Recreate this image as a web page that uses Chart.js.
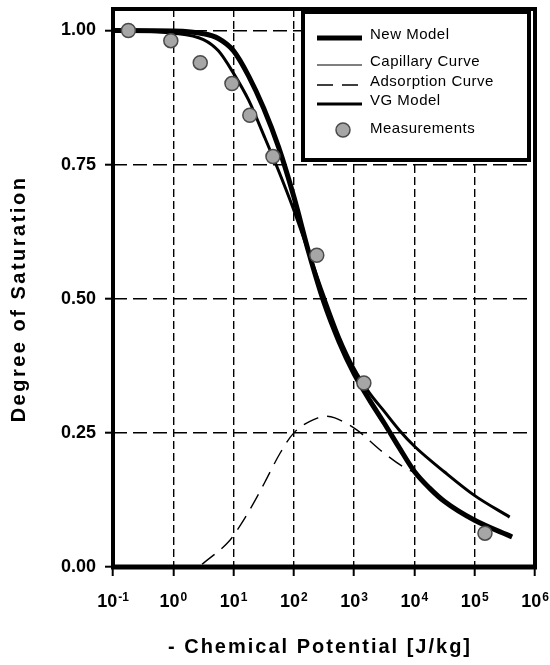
<!DOCTYPE html>
<html>
<head>
<meta charset="utf-8">
<script src="https://cdn.jsdelivr.net/npm/chart.js@4.4.1/dist/chart.umd.min.js"></script>
<style>
  html, body { margin: 0; padding: 0; background: #fff; }
</style>
</head>
<body>
<canvas id="satChart" width="550" height="665"></canvas>
<script>
// tick values
const xTicks = [0.1, 1, 10, 100, 1000, 10000, 100000, 1000000];
const yTicks = [0, 0.25, 0.5, 0.75, 1.0];

// New Model (thick line)
const newModelX = [0.1, 1, 3.16, 5.6, 10, 17.8, 31.6, 56, 100, 178, 316, 562, 1000, 1780, 3160, 5620, 10000, 17800, 31600, 100000, 417000];
const newModelY = [1.0, 0.999, 0.994, 0.985, 0.962, 0.915, 0.855, 0.782, 0.69, 0.585, 0.493, 0.42, 0.36, 0.312, 0.268, 0.222, 0.178, 0.147, 0.122, 0.087, 0.056];

// Capillary curve (runs under the thick line)
const capillaryX = [0.1, 1, 3.16, 5.6, 10, 17.8, 31.6, 56, 100, 178, 316, 562, 1000];
const capillaryY = [1.0, 0.999, 0.994, 0.985, 0.962, 0.915, 0.855, 0.782, 0.69, 0.585, 0.493, 0.42, 0.36];

// Adsorption curve (dashed)
const adsorptionX = [3.0, 8.7, 13, 23, 33, 59, 100, 251, 355, 479, 1120, 2700, 7600, 10000, 17800, 31600, 100000, 417000];
const adsorptionY = [0.005, 0.05, 0.078, 0.125, 0.158, 0.212, 0.25, 0.278, 0.281, 0.278, 0.255, 0.218, 0.182, 0.176, 0.147, 0.122, 0.087, 0.056];

// VG Model
const vgX = [0.1, 1, 3.16, 5.6, 10, 17.8, 31.6, 56, 100, 178, 316, 562, 1000, 1780, 3160, 5620, 10000, 31600, 100000, 380000];
const vgY = [1.0, 0.995, 0.983, 0.962, 0.92, 0.87, 0.805, 0.738, 0.665, 0.585, 0.505, 0.43, 0.37, 0.325, 0.29, 0.255, 0.225, 0.177, 0.133, 0.093];

// Measurements
const measX = [0.18, 0.91, 2.8, 9.4, 18.6, 45, 240, 1450, 148000];
const measY = [1.0, 0.981, 0.94, 0.901, 0.842, 0.765, 0.581, 0.343, 0.063];

const legendOrder = ['New Model', 'Capillary Curve', 'Adsorption Curve', 'VG Model', 'Measurements'];

function toPoints(xs, ys) {
    return xs.map((x, i) => ({ x: x, y: ys[i] }));
}

const FONT = "'Liberation Sans', Arial, Helvetica, sans-serif";
Chart.defaults.font.family = FONT;
Chart.defaults.color = '#000';

const extrasPlugin = {
    id: 'extras',
    beforeDatasetsDraw(chart) {
        const ctx = chart.ctx;
        const a = chart.chartArea;
        ctx.save();
        ctx.strokeStyle = '#000';
        ctx.lineWidth = 4;
        ctx.strokeRect(a.left, a.top, a.right - a.left, a.bottom - a.top);
        ctx.lineWidth = 5;
        ctx.beginPath();
        ctx.moveTo(a.left - 2, a.bottom);
        ctx.lineTo(a.right + 2, a.bottom);
        ctx.stroke();
        ctx.restore();
    },
    afterDraw(chart) {
        const ctx = chart.ctx;
        const a = chart.chartArea;
        const xScale = chart.scales.x;
        ctx.save();
        ctx.fillStyle = '#000';

        // x tick labels: 10 with superscript exponent
        xTicks.forEach(v => {
            const exp = String(Math.round(Math.log10(v)));
            const px = xScale.getPixelForValue(v);
            ctx.font = 'bold 18px ' + FONT;
            const wBase = ctx.measureText('10').width;
            ctx.font = 'bold 12px ' + FONT;
            const wExp = ctx.measureText(exp).width;
            const start = px - (wBase + wExp + 1) / 2;
            ctx.textAlign = 'left';
            ctx.textBaseline = 'alphabetic';
            ctx.font = 'bold 18px ' + FONT;
            ctx.fillText('10', start, 607);
            ctx.font = 'bold 12px ' + FONT;
            ctx.fillText(exp, start + wBase + 1, 601);
        });

        // axis titles
        ctx.font = 'bold 20px ' + FONT;
        ctx.letterSpacing = '2px';
        ctx.textAlign = 'center';
        ctx.textBaseline = 'middle';
        ctx.fillText('- Chemical Potential [J/kg]', (a.left + a.right) / 2 - 4, 647);
        ctx.save();
        ctx.letterSpacing = '2.5px';
        ctx.translate(19, 299);
        ctx.rotate(-Math.PI / 2);
        ctx.fillText('Degree of Saturation', 0, 0);
        ctx.restore();

        // legend box
        const box = { left: 303, top: 12, right: 529, bottom: 160 };
        ctx.fillStyle = '#fff';
        ctx.fillRect(box.left, box.top, box.right - box.left, box.bottom - box.top);
        ctx.strokeStyle = '#000';
        ctx.lineWidth = 4;
        ctx.strokeRect(box.left, box.top, box.right - box.left, box.bottom - box.top);

        const rowY = [35, 62, 82, 101, 129];
        ctx.letterSpacing = '0.5px';
        legendOrder.forEach((label, i) => {
            const ds = chart.data.datasets.find(d => d.label === label);
            const y = rowY[i];
            if (ds.showLine) {
                ctx.save();
                ctx.strokeStyle = ds.borderColor;
                ctx.lineWidth = ds.borderWidth;
                ctx.setLineDash(ds.borderDash || []);
                ctx.beginPath();
                ctx.moveTo(317, y + 3);
                ctx.lineTo(362, y + 3);
                ctx.stroke();
                ctx.restore();
            } else {
                ctx.beginPath();
                ctx.arc(343, y + 1, ds.pointRadius, 0, Math.PI * 2);
                ctx.fillStyle = ds.pointBackgroundColor;
                ctx.fill();
                ctx.lineWidth = ds.pointBorderWidth;
                ctx.strokeStyle = ds.pointBorderColor;
                ctx.stroke();
            }
            ctx.fillStyle = '#000';
            ctx.font = '15px ' + FONT;
            ctx.textAlign = 'left';
            ctx.textBaseline = 'middle';
            ctx.fillText(label, 370, y);
        });
        ctx.restore();
    }
};

const ctx = document.getElementById('satChart').getContext('2d');
const satChart = new Chart(ctx, {
    type: 'scatter',
    data: {
        datasets: [
            {
                label: 'Measurements',
                data: toPoints(measX, measY),
                showLine: false,
                pointRadius: 7,
                pointBackgroundColor: '#a6a6a6',
                pointBorderColor: '#4a4a4a',
                pointBorderWidth: 1.5,
            },
            {
                label: 'New Model',
                data: toPoints(newModelX, newModelY),
                showLine: true,
                borderColor: '#000',
                borderWidth: 5,
                pointRadius: 0,
                cubicInterpolationMode: 'monotone',
            },
            {
                label: 'Capillary Curve',
                data: toPoints(capillaryX, capillaryY),
                showLine: true,
                borderColor: '#000',
                borderWidth: 1.2,
                pointRadius: 0,
                cubicInterpolationMode: 'monotone',
            },
            {
                label: 'Adsorption Curve',
                data: toPoints(adsorptionX, adsorptionY),
                showLine: true,
                borderColor: '#000',
                borderWidth: 1.4,
                borderDash: [16, 9],
                pointRadius: 0,
                cubicInterpolationMode: 'monotone',
            },
            {
                label: 'VG Model',
                data: toPoints(vgX, vgY),
                showLine: true,
                borderColor: '#000',
                borderWidth: 3,
                pointRadius: 0,
                cubicInterpolationMode: 'monotone',
            },
        ],
    },
    options: {
        responsive: false,
        animation: false,
        devicePixelRatio: 1,
        layout: { padding: { top: 9, right: 15, left: 0, bottom: 0 } },
        plugins: {
            legend: { display: false },
            tooltip: { enabled: false },
        },
        scales: {
            x: {
                type: 'logarithmic',
                min: 0.1,
                max: 1000000,
                afterBuildTicks: scale => {
                    scale.ticks = xTicks.map(v => ({ value: v }));
                },
                afterFit: scale => {
                    scale.height = 98;
                    scale.paddingLeft = 0;
                    scale.paddingRight = 0;
                },
                ticks: { display: false },
                grid: {
                    color: '#000',
                    lineWidth: 1.4,
                    drawTicks: true,
                    tickLength: 9,
                    tickWidth: 2,
                    tickColor: '#000',
                },
                border: { display: false, dash: [8, 4] },
            },
            y: {
                min: 0,
                max: 1.04,
                afterBuildTicks: scale => {
                    scale.ticks = yTicks.map(v => ({ value: v }));
                },
                afterFit: scale => {
                    scale.width = 113;
                    scale.paddingTop = 0;
                    scale.paddingBottom = 0;
                },
                ticks: {
                    callback: v => Number(v).toFixed(2),
                    font: { size: 18, weight: 'bold' },
                    color: '#000',
                    padding: 9,
                },
                grid: {
                    color: '#000',
                    lineWidth: 1.4,
                    drawTicks: true,
                    tickLength: 8,
                    tickWidth: 2,
                    tickColor: '#000',
                },
                border: { display: false, dash: [14, 6] },
            },
        },
    },
    plugins: [extrasPlugin],
});
</script>
</body>
</html>
